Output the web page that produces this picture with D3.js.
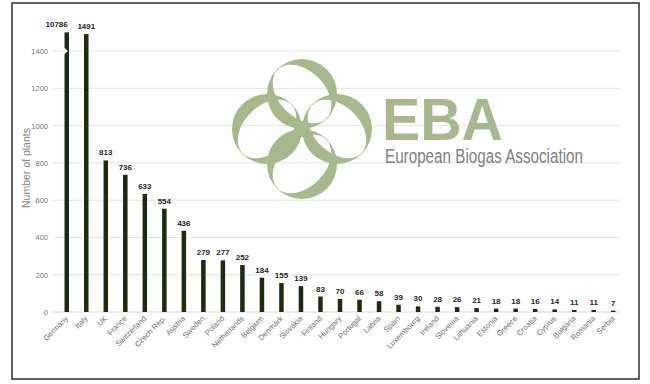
<!DOCTYPE html>
<html><head><meta charset="utf-8">
<script src="https://cdn.jsdelivr.net/npm/d3@7"></script>
<style>body{margin:0;background:#fff}svg{display:block}</style>
</head><body>
<svg id="c" width="650" height="384"></svg>
<script>
const countries = ["Germany","Italy","UK","France","Switzerland","Czech Rep.","Austria","Sweden","Poland","Netherlands","Belgium","Denmark","Slovakia","Finland","Hungary","Portugal","Latvia","Spain","Luxembourg","Ireland","Slovenia","Lithuania","Estonia","Greece","Croatia","Cyprus","Bulgaria","Romania","Serbia"];
const plants = [10786,1491,813,736,633,554,436,279,277,252,184,155,139,83,70,66,58,39,30,28,26,21,18,18,16,14,11,11,7];
const yTicks = [0,200,400,600,800,1000,1200,1400];
const yMax = 1500;

const svg = d3.select("#c");
const x = d3.scaleBand().domain(countries).range([57, 623]).paddingInner(0.77).paddingOuter(0.385);
const y = d3.scaleLinear().domain([0, yMax]).range([312, 32.4]);

// gridlines
svg.append("g").selectAll("line").data(yTicks.filter(d=>d>0)).join("line")
  .attr("x1", 53).attr("x2", 620).attr("y1", d=>y(d)).attr("y2", d=>y(d))
  .attr("stroke", "#e4e4e4").attr("stroke-width", 1);
svg.append("line").attr("x1",53).attr("x2",620).attr("y1",y(0)).attr("y2",y(0))
  .attr("stroke","#d9d9d9").attr("stroke-width",1);

// y axis labels
const yAxis = d3.axisLeft(y).tickValues(yTicks).tickFormat(d3.format("d")).tickSize(0).tickPadding(0);
const ya = svg.append("g").attr("transform","translate(48,0)").call(yAxis);
ya.select(".domain").remove();
ya.selectAll("text").attr("font-family","Liberation Sans, Arial, sans-serif").attr("font-size",7.5).attr("fill","#7a7a7a").attr("dy","0.32em");

// y title
svg.append("text").attr("transform","translate(30,168) rotate(-90)")
  .attr("text-anchor","middle").attr("font-family","Liberation Sans, Arial, sans-serif")
  .attr("font-size",10.5).attr("fill","#858585").text("Number of plants");

// Logo
const logoGreen = "#a5b98d";
function ringPath(cx, cy, R, rx, ry, rot) {
  let p = `M${cx+R},${cy} A${R},${R} 0 1,0 ${cx-R},${cy} A${R},${R} 0 1,0 ${cx+R},${cy} Z `;
  const a = rot*Math.PI/180, n = 72;
  for (let i=0;i<=n;i++){
    const t = i/n*2*Math.PI;
    const ex = rx*Math.cos(t), ey = ry*Math.sin(t);
    const px = cx + ex*Math.cos(a) - ey*Math.sin(a);
    const py = cy + ex*Math.sin(a) + ey*Math.cos(a);
    p += (i===0?"M":"L") + px.toFixed(2) + "," + py.toFixed(2);
  }
  return p + "Z";
}
const logo = svg.append("g");
const rings = [
  {cx:302, cy:94, rot:45},
  {cx:302, cy:164, rot:-45},
  {cx:267, cy:129, rot:-45},
  {cx:337, cy:129, rot:45}
];
rings.forEach(r=>{
  logo.append("path").attr("d", ringPath(r.cx, r.cy, 35, 34.4, 23, r.rot))
    .attr("fill", logoGreen).attr("fill-rule","evenodd");
});
svg.append("text").attr("x",382).attr("y",140).attr("font-family","Liberation Sans, Arial, sans-serif")
  .attr("font-weight","bold").attr("font-size",59).attr("fill",logoGreen)
  .attr("textLength",121).attr("lengthAdjust","spacingAndGlyphs").text("EBA");
svg.append("text").attr("x",385).attr("y",163).attr("font-family","Liberation Sans Narrow, Liberation Sans, Arial, sans-serif")
  .attr("font-size",20).attr("fill","#808080")
  .attr("textLength",198).attr("lengthAdjust","spacingAndGlyphs").text("European Biogas Association");

// bars
const barColor = "#1d2b0e";
svg.append("g").selectAll("rect").data(countries).join("rect")
  .attr("x", d=>x(d)).attr("width", x.bandwidth())
  .attr("y", (d,i)=>y(Math.min(plants[i], yMax)))
  .attr("height", (d,i)=>y(0)-y(Math.min(plants[i], yMax)))
  .attr("fill", barColor);

// break marker on the capped bar
countries.forEach((c,i)=>{
  if (plants[i] > yMax) {
    const bx = x(c), yb = y(1400);
    svg.append("path")
      .attr("d", `M${bx-1},${yb-4} L${bx+x.bandwidth()*0.75},${yb} L${bx-1},${yb+4} Z`)
      .attr("fill","#fff");
  }
});

// value labels
svg.append("g").selectAll("text").data(countries).join("text")
  .attr("x", (d,i)=>x(d)+x.bandwidth()/2 + (plants[i] > yMax ? 1 : 0))
  .attr("y", (d,i)=>y(Math.min(plants[i], yMax))-5)
  .attr("text-anchor",(d,i)=>plants[i] > yMax ? "end" : "middle")
  .attr("font-family","Liberation Sans, Arial, sans-serif")
  .attr("font-weight","bold").attr("font-size",8).attr("fill","#262626")
  .text((d,i)=>plants[i]);

// x labels
svg.append("g").selectAll("text").data(countries).join("text")
  .attr("transform", d=>`translate(${x(d)+x.bandwidth()/2+2},${319}) rotate(-45)`)
  .attr("text-anchor","end").attr("font-family","Liberation Sans, Arial, sans-serif")
  .attr("font-size",7.7).attr("fill","#6e6e6e").text(d=>d);

// border
svg.append("rect").attr("x",12).attr("y",3).attr("width",627).attr("height",376)
  .attr("fill","none").attr("stroke","#3a3a3a").attr("stroke-width",1.6);
</script>
</body></html>
